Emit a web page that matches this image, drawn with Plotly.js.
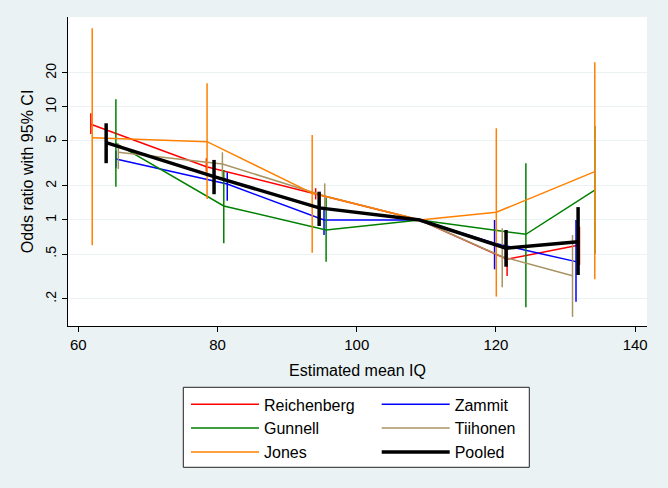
<!DOCTYPE html>
<html>
<head>
<meta charset="utf-8">
<script src="https://cdn.plot.ly/plotly-3.0.1.min.js"></script>
<style>
html,body{margin:0;padding:0;background:#EAF2F3;}
#chart{width:668px;height:488px;}
</style>
</head>
<body>
<div id="chart"></div>
<script>
// ---- Data ----
const tickVals = [0.2, 0.5, 1, 2, 5, 10, 20];
const tickText = ['.2', '.5', '1', '2', '5', '10', '20'];
const xTickVals = [60, 80, 100, 120, 140];

// Reichenberg
const iqReichenberg = [61.8, 78.4, 94.1, 109.05, 121.6, 132.0];
const orReichenberg = [7.03, 2.96, 1.70, 1, 0.449, 0.601];
const loReichenberg = [5.77, 2.68, 1.52, null, 0.319, 0.40];
const hiReichenberg = [8.80, 3.52, 1.91, null, 0.581, 0.873];

// Zammit
const iqZammit = [65.4, 81.4, 95.3, 109.05, 119.8, 131.5];
const orZammit = [3.47, 2.08, 1.00, 1, 0.622, 0.428];
const loZammit = [2.9, 1.48, 0.737, null, 0.366, 0.189];
const hiZammit = [4.1, 2.64, 1.31, null, 1.00, 1.00];

// Gunnell
const iqGunnell = [65.4, 80.9, 95.6, 109.05, 124.3, 134.2];
const orGunnell = [4.77, 1.33, 0.816, 1, 0.747, 1.84];
const loGunnell = [1.97, 0.622, 0.428, null, 0.169, 0.5];
const hiGunnell = [11.7, 2.77, 1.57, null, 3.18, 6.8];

// Tiihonen
const iqTiihonen = [65.75, 80.7, 95.4, 109.05, 120.9, 131.0];
const orTiihonen = [3.97, 3.13, 1.63, 1, 0.473, 0.321];
const loTiihonen = [2.83, 2.26, 1.25, null, 0.254, 0.139];
const hiTiihonen = [4.77, 3.97, 2.11, null, 0.845, 0.737];

// Jones
const iqJones = [62.0, 78.5, 93.6, 109.05, 120.05, 134.2];
const orJones = [5.35, 4.93, 1.73, 1, 1.17, 2.68];
const loJones = [0.597, 1.53, 0.514, null, 0.21, 0.299];
const hiJones = [49.7, 16.2, 5.65, null, 6.48, 24.9];

// Pooled
const iqPooled = [64.0, 79.5, 94.6, 109.05, 121.45, 131.8];
const orPooled = [4.83, 2.42, 1.28, 1, 0.562, 0.643];
const loPooled = [3.18, 1.69, 0.885, null, 0.386, 0.326];
const hiPooled = [7.17, 3.40, 1.78, null, 0.816, 1.30];

// ---- Styling ----
function makeTrace(name, x, y, lo, hi, color, width, legendId) {
  const plus = y.map((v, i) => hi[i] == null ? null : hi[i] - v);
  const minus = y.map((v, i) => lo[i] == null ? null : v - lo[i]);
  return {
    type: 'scatter', mode: 'lines', name: name, x: x, y: y,
    line: {color: color, width: width},
    error_y: {type: 'data', symmetric: false, array: plus, arrayminus: minus,
              color: color, thickness: width, width: 0},
    legend: legendId, hoverinfo: 'skip'
  };
}

const traces = [
  makeTrace('Reichenberg', iqReichenberg, orReichenberg, loReichenberg, hiReichenberg, '#FF0000', 1.5, 'legend'),
  makeTrace('Zammit', iqZammit, orZammit, loZammit, hiZammit, '#0000FF', 1.5, 'legend2'),
  makeTrace('Gunnell', iqGunnell, orGunnell, loGunnell, hiGunnell, '#008000', 1.5, 'legend'),
  makeTrace('Tiihonen', iqTiihonen, orTiihonen, loTiihonen, hiTiihonen, '#A89461', 1.5, 'legend2'),
  makeTrace('Jones', iqJones, orJones, loJones, hiJones, '#FF8000', 1.5, 'legend'),
  makeTrace('Pooled', iqPooled, orPooled, loPooled, hiPooled, '#000000', 3.5, 'legend2')
];

const W = 668, H = 488, ML = 68, MR = 21, MT = 17, MB = 162;
const PW = W - ML - MR, PH = H - MT - MB;
const px2x = p => (p - ML) / PW;
const py2y = p => (H - MB - p) / PH;

const legendCommon = {
  orientation: 'v', xanchor: 'left', yanchor: 'top',
  bgcolor: 'rgba(0,0,0,0)', borderwidth: 0,
  font: {family: 'Liberation Sans, Arial, sans-serif', size: 16, color: '#000'},
  itemwidth: 68, tracegroupgap: 0, itemclick: false
};

const layout = {
  width: W, height: H,
  paper_bgcolor: '#EAF2F3', plot_bgcolor: '#FFFFFF',
  margin: {l: ML, r: MR, t: MT, b: MB, autoexpand: false},
  font: {family: 'Liberation Sans, Arial, sans-serif', color: '#000'},
  showlegend: true,
  xaxis: {
    range: [58.52, 141.7], tickvals: xTickVals, ticks: 'outside', ticklen: 5,
    tickcolor: '#000', showline: true, linecolor: '#000', linewidth: 1,
    showgrid: false, zeroline: false, tickfont: {size: 15},
    title: {text: 'Estimated mean IQ', font: {size: 16}, standoff: 12}
  },
  yaxis: {
    type: 'log', range: [-0.938, 1.796], tickvals: tickVals, ticktext: tickText,
    tickangle: -90, ticks: 'outside', ticklen: 5, tickcolor: '#000',
    showline: true, linecolor: '#000', linewidth: 1,
    showgrid: true, gridcolor: '#EAF2F3', gridwidth: 1, zeroline: false,
    tickfont: {size: 14},
    title: {text: 'Odds ratio with 95% CI', font: {size: 16}, standoff: 5}
  },
  legend: Object.assign({x: px2x(186), y: py2y(387.4)}, legendCommon),
  legend2: Object.assign({x: px2x(376.7), y: py2y(387.4)}, legendCommon),
  shapes: [{
    type: 'rect', xref: 'paper', yref: 'paper', layer: 'above',
    x0: px2x(183.3), x1: px2x(529.3), y0: py2y(387.3), y1: py2y(467.3),
    fillcolor: '#FFFFFF', line: {color: '#222', width: 1}
  }]
};

Plotly.newPlot('chart', traces, layout, {displayModeBar: false, staticPlot: true});
</script>
</body>
</html>
